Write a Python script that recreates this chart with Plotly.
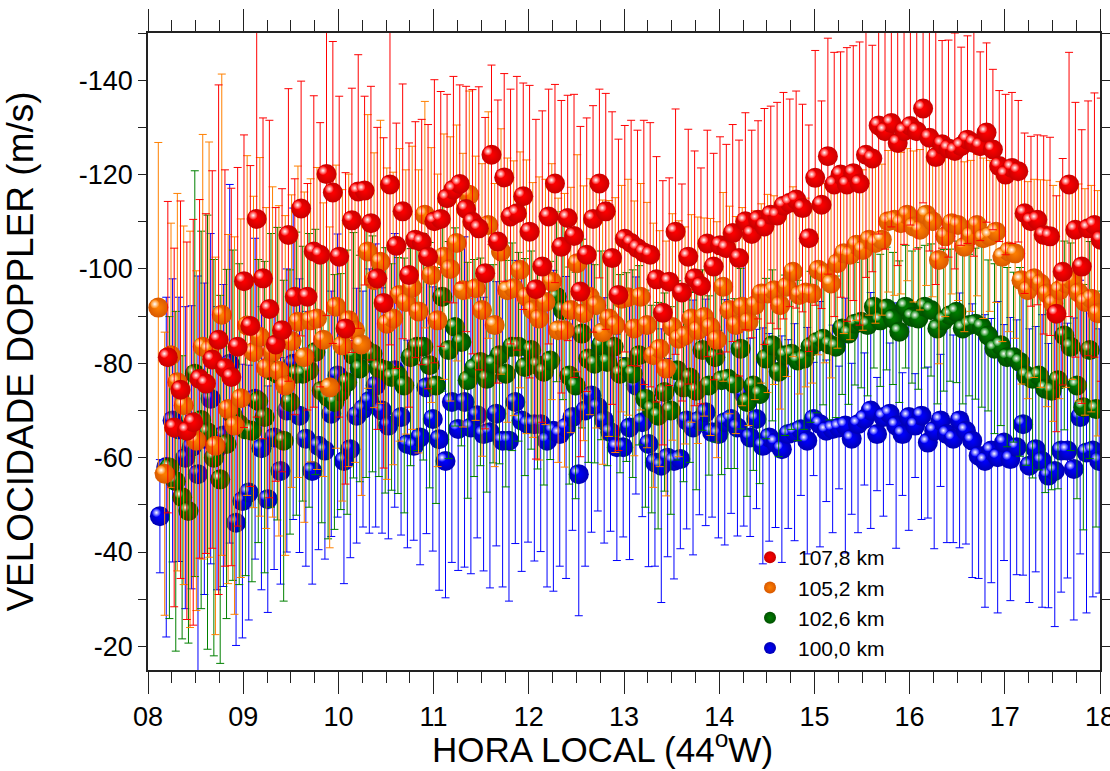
import plotly.graph_objects as go

# ---- sampling: one profile every 4 minutes, each height starts at its own time (LT, decimal hours)
STEP_H = 4 / 60
T0 = {"red": 8 + 12.5 / 60, "orange": 8 + 6.5 / 60, "green": 8 + 13.5 / 60, "blue": 8 + 7.5 / 60}

# ---- mean Doppler velocity (m/s) per height, with its error (m/s)
V_107_8 = [
    -81.3, -66.4, -74.4, -65.7, -67.5, -76.7, -75.7, -80.8, -85.0, -79.0,
    -77.1, -83.5, -97.4, -87.9, -110.6, -98.0, -91.5, -84.0, -87.0, -107.2,
    -94.1, -112.8, -94.1, -103.7, -103.0, -120.1, -116.2, -102.6, -87.4, -110.3,
    -116.4, -116.6, -109.7, -98.0, -92.8, -117.9, -104.9, -112.2, -98.7, -106.2,
    -105.7, -102.6, -110.1, -110.6, -115.0, -116.8, -118.0, -112.7, -110.0, -108.6,
    -99.1, -124.2, -105.8, -119.4, -111.1, -111.8, -115.4, -107.9, -95.7, -100.5,
    -111.1, -118.1, -104.7, -110.8, -107.0, -95.2, -103.0, -110.6, -118.1, -112.2,
    -102.3, -94.5, -106.4, -105.5, -104.4, -103.5, -103.0, -97.8, -90.7, -97.3,
    -107.9, -95.0, -102.6, -98.0, -96.4, -105.4, -100.5, -105.0, -104.4, -107.6,
    -102.3, -110.1, -107.4, -110.4, -109.0, -111.5, -111.3, -113.4, -114.0, -114.7,
    -112.9, -106.5, -119.3, -113.6, -123.9, -117.9, -120.0, -117.9, -120.3, -118.1,
    -124.2, -123.4, -130.4, -129.2, -130.9, -126.7, -129.2, -130.3, -129.2, -134.0,
    -127.8, -123.7, -126.4, -125.5, -125.0, -126.0, -127.4, -126.7, -126.0, -128.9,
    -125.3, -121.8, -120.0, -121.4, -120.7, -111.8, -110.1, -110.4, -107.2, -106.9,
    -90.5, -99.4, -117.9, -108.3, -100.5, -108.6, -109.3, -106.2,
]
E_107_8 = [
    33, 38, 40, 40, 43, 38, 36, 40, 54, 42, 40, 38, 31, 34, 42, 34, 40, 29, 30, 31,
    25, 27, 24, 33, 28, 30, 32, 34, 33, 28, 29, 20, 29, 32, 35, 34, 26, 27, 28, 25,
    26, 28, 30,
    27, 22, 24, 21, 26, 28, 30, 33, 19, 30, 22, 27, 29, 24, 31, 36, 33, 27, 21, 31,
    26, 30, 35, 29, 24, 20, 25, 31, 33,
    24, 26, 25, 28, 28, 26, 28, 22, 26, 23, 27, 27, 25, 24, 24, 23, 22, 23, 25, 23,
    22, 21, 25, 23, 24, 24, 22,
    23, 22, 24, 27, 22, 25, 28, 26, 29, 27, 30, 26, 24, 23, 25, 22, 26, 24, 21, 25,
    20, 24, 27, 22, 23, 25, 21, 22, 24, 20, 19, 17, 16, 17, 16, 15, 17, 18, 18, 21,
    21, 25, 24, 28, 27, 29, 27, 28, 30,
]

V_105_2 = [
    -91.8, -56.6, -81.7, -76.0, -71.1, -66.0, -63.6, -83.5, -82.9, -62.5,
    -90.3, -70.3, -66.8, -72.6, -88.0, -82.4, -85.6, -79.0, -82.4, -78.4,
    -75.3, -84.7, -88.8, -81.3, -89.1, -89.5, -85.0, -74.9, -92.0, -83.8,
    -89.1, -87.0, -84.0, -103.7, -97.6, -101.5, -88.4, -89.5, -94.5, -93.0,
    -96.0, -91.0, -111.5, -98.7, -89.1, -102.6, -100.0, -105.5, -95.5, -115.7,
    -95.9, -91.3, -109.3, -88.1, -103.7, -95.5, -95.9, -99.8, -94.1, -91.3,
    -89.5, -93.0, -97.3, -87.0, -87.0, -91.3, -101.2, -90.6, -94.1, -92.3,
    -86.6, -89.5, -88.1, -93.7, -94.0, -87.4, -94.1, -88.1, -81.7, -83.1,
    -78.9, -87.7, -85.2, -85.9, -89.5, -87.0, -89.8, -87.7, -85.0, -96.2,
    -91.3, -88.1, -92.0, -88.8, -92.3, -94.8, -94.8, -95.5, -92.3, -96.2,
    -99.4, -94.5, -95.0, -94.8, -99.8, -99.1, -96.9, -101.2, -103.3, -103.0,
    -105.1, -104.0, -106.2, -105.5, -106.2, -110.1, -110.4, -109.7, -111.5, -109.0,
    -108.3, -111.5, -110.1, -101.9, -106.9, -109.7, -109.3, -104.7, -107.0, -109.3,
    -106.5, -107.0, -107.9, -102.6, -103.7, -103.3, -97.6, -95.5, -98.0, -96.9,
    -94.8, -92.7, -95.5, -96.9, -97.6, -95.0, -93.0, -93.7, -90.6,
]
E_105_2 = [
    35, 30, 28, 40, 38, 42, 36, 45, 44, 40, 51, 37, 40, 38, 36, 33, 38, 34, 35, 35,
    36, 31, 33, 35, 30, 32, 29, 34, 30, 33, 31, 28, 32, 29, 27, 30, 33, 31, 31, 28,
    30, 30, 24, 27, 31, 26, 28, 25, 29, 22, 28, 31, 24, 30, 26, 28, 27, 25, 29, 27,
    30, 26, 25, 28, 29, 26, 23, 27, 25, 26, 28, 25, 27, 24, 25, 27, 24, 26, 28, 25,
    27, 24, 25, 23, 22, 24, 21, 23, 25, 20, 22, 23, 21, 22, 20, 19, 21, 20, 22, 19,
    18, 21, 20, 19, 18, 19, 20, 18, 17, 18, 16, 17, 16, 17, 16, 15, 16, 15, 14, 16,
    17, 15, 16, 22, 17, 15, 16, 18, 16, 15, 17, 16, 15, 18, 17, 18, 22, 23, 21, 22,
    24, 25, 23, 22, 21, 23, 24, 24, 26,
]

V_102_6 = [
    -57.9, -55.0, -51.6, -48.7, -77.8, -68.0, -65.4, -60.0, -55.4, -62.9,
    -69.0, -67.1, -66.0, -65.7, -72.0, -68.6, -78.5, -77.8, -63.6, -71.8,
    -77.8, -77.8, -78.5, -82.4, -74.2, -72.8, -71.8, -74.0, -76.0, -81.7,
    -78.9, -82.8, -82.0, -79.0, -78.5, -77.1, -77.4, -75.3, -81.3, -83.5,
    -83.5, -79.6, -75.3, -94.1, -82.8, -87.7, -84.5, -76.4, -79.0, -80.3,
    -76.7, -79.9, -81.7, -77.8, -83.5, -83.5, -79.2, -82.8, -79.6, -78.2,
    -80.6, -94.1, -91.3, -77.4, -75.3, -86.3, -81.0, -79.9, -83.8, -80.3,
    -83.5, -77.8, -79.2, -77.8, -81.7, -72.5, -70.3, -68.9, -73.9, -70.0,
    -78.5, -74.9, -77.0, -74.2, -82.8, -75.3, -81.3, -76.4, -76.7, -75.7,
    -83.1, -71.8, -75.3, -73.5, -81.0, -83.8, -78.2, -81.7, -82.0, -80.6,
    -81.0, -83.5, -84.5, -85.2, -84.0, -83.5, -87.4, -86.3, -88.4, -88.8,
    -88.1, -92.0, -89.1, -91.6, -89.5, -86.7, -92.0, -89.8, -89.5, -92.0,
    -91.3, -87.4, -89.1, -90.2, -90.9, -87.4, -88.1, -88.4, -87.7, -85.9,
    -83.1, -83.8, -81.3, -81.3, -80.3, -77.4, -76.7, -77.4, -74.6, -74.2,
    -76.4, -85.9, -83.5, -75.3, -70.7, -82.8, -70.3,
]
E_102_6 = [
    32, 36, 30, 28, 43, 40, 46, 42, 39, 37, 35, 34, 31, 32, 30, 33, 29, 31, 34, 28,
    30, 27, 29, 26, 28, 30, 27, 25, 28, 26, 24, 27, 25, 23, 26, 24, 25, 27, 23, 22,
    24, 26, 25, 20, 23, 21, 22, 25, 23, 22, 24, 21, 23, 24, 22, 20, 23, 21, 22, 24,
    21, 18, 19, 23, 24, 20, 22, 21, 20, 22, 19, 21, 20, 22, 19, 23, 22, 24, 21, 22,
    19, 20, 18, 21, 17, 19, 18, 20, 19, 18, 17, 20, 18, 19, 17, 16, 18, 17, 16, 17,
    15, 16, 15, 14, 16, 15, 14, 15, 13, 14, 15, 13, 14, 13, 14, 15, 13, 14, 15, 13,
    14, 16, 15, 14, 15, 16, 15, 16, 17, 16, 18, 17, 19, 18, 20, 19, 21, 20, 22, 21,
    23, 20, 22, 24, 26, 23, 25,
]

V_100_0 = [
    -47.6, -58.0, -67.9, -66.0, -60.0, -62.2, -56.5, -64.0, -72.5, -62.0,
    -64.7, -79.9, -46.2, -50.8, -52.6, -72.5, -62.0, -51.2, -64.3, -57.2,
    -70.0, -79.9, -68.9, -64.0, -57.2, -62.5, -61.5, -69.3, -77.4, -59.3,
    -61.8, -68.9, -70.3, -72.0, -75.3, -70.0, -66.8, -78.5, -68.6, -62.9,
    -62.5, -64.3, -74.9, -68.2, -63.9, -59.3, -71.8, -66.1, -71.8, -66.4,
    -69.0, -65.0, -65.4, -69.3, -63.6, -63.6, -71.8, -67.9, -67.1, -67.1,
    -67.1, -63.6, -65.7, -65.0, -66.4, -68.6, -56.5, -70.0, -73.2, -70.7,
    -67.9, -65.4, -62.2, -62.2, -66.4, -75.3, -67.5, -62.9, -59.0, -58.3,
    -60.0, -59.3, -59.7, -67.9, -66.4, -67.9, -69.6, -65.4, -65.0, -67.5,
    -68.2, -66.4, -73.5, -64.3, -68.2, -62.5, -64.3, -63.2, -61.8, -65.0,
    -65.4, -66.0, -63.6, -68.2, -67.1, -65.7, -66.1, -66.4, -66.8, -64.0,
    -67.1, -68.2, -70.0, -65.0, -68.6, -69.3, -66.8, -65.0, -68.6, -66.8,
    -68.9, -63.2, -65.7, -67.9, -65.0, -64.0, -67.9, -65.7, -63.6, -60.4,
    -59.3, -61.5, -60.1, -63.2, -59.7, -62.2, -67.1, -58.3, -61.8, -59.3,
    -56.2, -57.2, -61.5, -61.5, -57.6, -68.6, -61.1, -61.5, -59.3,
]
E_100_0 = [
    12, 36, 30, 28, 32, 30, 42, 33, 35, 30, 32, 38, 26, 29, 27, 34, 30, 24, 28, 24,
    30, 33, 29, 27, 24, 22, 23, 26, 30, 26, 23, 27, 25, 28, 30, 26, 24, 29, 25, 22,
    20,
    27, 31, 28, 32, 29, 34, 30, 35, 31, 26, 29, 33, 28, 31, 34, 30, 32, 25, 29, 27,
    31, 34, 28, 32, 24, 30, 33, 29, 22, 26, 21, 24, 19, 28, 23, 20, 26, 22, 29, 21,
    25, 19, 23, 27, 20, 24, 18, 22, 26, 20, 23, 28, 21, 19, 25, 22, 18, 24, 20, 23,
    14, 24, 12, 26, 15, 22, 13, 27, 16, 23, 14, 25, 12, 21, 15, 26, 13, 24, 11, 22,
    16, 25, 14, 23, 22, 27, 24, 29, 26, 31, 28, 33, 25, 30, 27, 32, 29, 26, 31, 28,
    33, 30, 27, 32, 29, 34, 31, 28,
]

SERIES = [
    # key, legend label, legend rank, values, errors, colour, rim colour
    ("blue", "100,0 km", 4, V_100_0, E_100_0, "#0000FF", "#0000B4"),
    ("green", "102,6 km", 3, V_102_6, E_102_6, "#008000", "#005000"),
    ("orange", "105,2 km", 2, V_105_2, E_105_2, "#FF8000", "#D85800"),
    ("red", "107,8 km", 1, V_107_8, E_107_8, "#FF0000", "#C80000"),
]

X_RANGE = [8, 18]
Y_RANGE = [-15, -150]
X_TICKS = list(range(8, 19))
X_TICKTEXT = [f"{h:02d}" for h in X_TICKS]
Y_TICKS = list(range(-140, -19, 20))
Y_TICKTEXT = [f"-{abs(v)}" for v in Y_TICKS]
X_TITLE = "HORA LOCAL (44<sup>o</sup>W)"
Y_TITLE = "VELOCIDADE DOPPLER (m/s)"

W, H = 1110, 771
MARGIN = dict(l=148, r=10, t=33, b=101)
FONT = "Liberation Sans, Arial, sans-serif"
PLOT_W = W - MARGIN["l"] - MARGIN["r"]
PLOT_H = H - MARGIN["t"] - MARGIN["b"]

# pixel -> data conversion used to place the specular spot on each ball
px_x = PLOT_W / (X_RANGE[1] - X_RANGE[0])
px_y = PLOT_H / abs(Y_RANGE[1] - Y_RANGE[0])
SPOT_DX = -3.5 / px_x
SPOT_DY = -3.5 / px_y   # reversed axis: more negative is higher on screen

fig = go.Figure()
for key, label, rank, vals, errs, col, rim in SERIES:
    assert len(vals) == len(errs), key
    t = [T0[key] + i * STEP_H for i in range(len(vals))]
    fig.add_trace(go.Scatter(
        x=t, y=vals, mode="markers", name=label, legendrank=rank,
        error_y=dict(type="data", array=errs, visible=True, color=col,
                     thickness=1, width=4),
        marker=dict(size=20, color=rim, line=dict(width=0),
                    gradient=dict(type="radial", color=col)),
    ))
    fig.add_trace(go.Scatter(
        x=[v + SPOT_DX for v in t], y=[v + SPOT_DY for v in vals],
        mode="markers", showlegend=False, hoverinfo="skip",
        marker=dict(size=9, color=col, line=dict(width=0),
                    gradient=dict(type="radial", color="#FFFFFF")),
    ))

axis_common = dict(
    showline=True, linecolor="#222222", linewidth=1.5, mirror="ticks",
    ticks="outside", tickcolor="#222222", tickwidth=1.2,
    showgrid=False, zeroline=False, automargin=False,
    ticklabeloverflow="allow",
)

fig.update_xaxes(
    range=X_RANGE, tickvals=X_TICKS, ticktext=X_TICKTEXT, ticklen=22,
    minor=dict(dtick=0.25, ticklen=11, ticks="outside", tickcolor="#222222", tickwidth=1),
    tickfont=dict(family=FONT, size=27, color="black"),
    ticklabelstandoff=0,
    **axis_common,
)
fig.update_yaxes(
    range=Y_RANGE, tickvals=Y_TICKS, ticktext=Y_TICKTEXT, ticklen=8,
    minor=dict(dtick=10, tick0=-140, ticklen=8, ticks="outside", tickcolor="#222222", tickwidth=1),
    tickfont=dict(family=FONT, size=27, color="black"),
    title=dict(text=Y_TITLE, font=dict(family=FONT, size=37, color="black"), standoff=40),
    **axis_common,
)

# x-axis title sits low, its box resting on the bottom edge of the figure
fig.add_annotation(
    text=X_TITLE, showarrow=False,
    xref="paper", x=(602 - MARGIN["l"]) / PLOT_W, xanchor="center",
    yref="paper", y=-MARGIN["b"] / PLOT_H, yanchor="bottom",
    font=dict(family=FONT, size=35, color="black"),
)

fig.update_layout(
    width=W, height=H, margin=MARGIN,
    paper_bgcolor="white", plot_bgcolor="white",
    showlegend=True,
    legend=dict(
        x=(742 - MARGIN["l"]) / PLOT_W, xanchor="left",
        y=(H - MARGIN["b"] - 537) / PLOT_H, yanchor="top",
        traceorder="normal", itemwidth=46,
        font=dict(family=FONT, size=21, color="black"),
        bgcolor="rgba(0,0,0,0)", itemsizing="constant",
    ),
)

fig.write_html("out.html")
